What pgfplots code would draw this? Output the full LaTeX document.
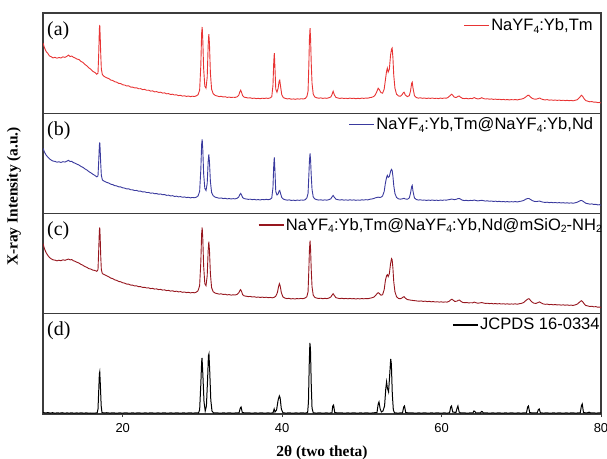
\documentclass[border=0pt]{standalone}
\usepackage{fontspec}
\setmainfont{Liberation Serif}
\newfontfamily\sffam{Liberation Sans}
\usepackage{pgfplots}
\usepackage{pgfplotstable}
\pgfplotsset{compat=1.18}
\definecolor{cA}{RGB}{232,52,52}
\definecolor{cB}{RGB}{58,58,158}
\definecolor{cC}{RGB}{150,22,30}
\definecolor{frame}{RGB}{60,60,60}
\newcommand\sub[1]{\raisebox{-0.15em}{\fontsize{10.5}{10.5}\selectfont #1}}

\pgfplotstableread{
x y
10.0 70
10.2 65
10.4 61.5
10.6 59.8
10.8 57.2
11.0 56.5
11.25 55.2
11.5 55.8
11.75 54.9
12.0 55.6
12.25 55.1
12.5 56.3
12.75 55.7
13.0 56.8
13.2 58.0
13.4 56.6
13.6 57.1
13.8 55.9
14.0 55.3
14.25 54.1
14.5 53.6
14.75 51.8
15.0 50.7
15.25 48.8
15.5 47.3
15.75 45.2
16.0 43.9
16.25 41.8
16.5 40.7
16.75 38.9
16.9 40
17.0 62
17.07 84
17.12 88
17.17 78
17.24 60
17.32 44
17.45 38.5
17.6 37.2
17.8 36.1
18.0 35.3
18.25 34.6
18.5 33.1
18.75 32.7
19.0 31.4
19.25 31.0
19.5 29.8
19.75 29.6
20.0 28.4
20.25 28.1
20.5 27.2
20.75 27.3
21.0 26.1
21.25 26.0
21.5 25.3
21.75 25.4
22.0 24.4
22.25 24.5
22.5 23.6
22.75 23.8
23.0 22.9
23.25 23.0
23.5 22.1
23.75 22.3
24.0 21.3
24.25 21.6
24.5 20.8
24.75 21.0
25.0 20.1
25.25 20.3
25.5 19.4
25.75 19.6
26.0 18.7
26.25 19.0
26.5 18.2
26.75 18.4
27.0 17.6
27.25 17.9
27.5 17.1
27.75 17.4
28.0 16.8
28.25 17.2
28.5 16.6
28.75 17.0
29.0 16.7
29.25 17.4
29.45 18.5
29.65 23
29.8 48
29.9 80
29.97 86
30.05 72
30.15 45
30.3 27
30.45 25
30.6 36
30.72 68
30.8 79
30.88 70
31.0 40
31.15 24
31.35 19.5
31.6 17.8
31.85 17.2
32.1 16.6
32.35 16.9
32.6 16.2
32.85 16.5
33.1 15.8
33.35 16.1
33.6 15.7
33.85 16.0
34.1 15.8
34.35 16.4
34.55 17.8
34.7 21.5
34.8 23
34.9 21.0
35.05 17.4
35.25 16.0
35.5 15.6
35.75 15.2
36.0 15.4
36.25 14.8
36.5 15.1
36.75 14.6
37.0 14.9
37.25 14.5
37.5 15.0
37.75 14.7
38.0 15.1
38.25 14.8
38.5 15.3
38.7 16.5
38.85 28
38.95 52
39.02 60
39.1 45
39.2 24
39.35 21
39.5 25
39.62 32
39.7 33
39.8 27
39.95 18.5
40.15 15.6
40.4 14.8
40.65 14.3
40.9 14.6
41.15 14.0
41.4 14.3
41.65 13.9
41.9 14.4
42.15 14.1
42.4 14.5
42.65 14.2
42.9 14.8
43.1 16.5
43.25 22
43.35 48
43.42 73
43.5 85
43.57 74
43.65 50
43.75 30
43.9 19
44.1 16.2
44.35 15.4
44.6 15.0
44.85 15.3
45.1 14.8
45.35 15.2
45.6 14.9
45.85 15.4
46.1 16.2
46.25 18.5
46.4 22
46.55 18.3
46.75 15.8
47.0 15.2
47.25 14.8
47.5 15.2
47.75 14.7
48.0 15.0
48.25 14.6
48.5 15.1
48.75 14.7
49.0 15.0
49.25 14.5
49.5 14.9
49.75 14.6
50.0 15.1
50.25 14.8
50.5 15.2
50.75 15.0
51.0 15.6
51.25 15.9
51.5 16.8
51.7 18.5
51.9 22
52.05 25
52.2 23.5
52.4 20.5
52.6 20
52.8 24
52.95 33
53.1 42
53.2 45
53.3 41
53.45 44
53.6 58
53.72 64
53.8 65
53.9 55
54.0 38
54.15 25
54.35 19
54.6 17.2
54.85 17.0
55.05 18.5
55.2 20.5
55.3 21
55.45 18.2
55.7 16.6
55.95 17.5
56.1 22
56.25 30
56.32 31
56.42 25
56.6 17.5
56.85 15.6
57.1 15.1
57.35 15.4
57.6 14.9
57.85 15.2
58.1 14.7
58.35 15.1
58.6 14.8
58.85 15.2
59.1 14.7
59.35 15.0
59.6 14.6
59.85 15.1
60.1 14.8
60.35 15.2
60.6 15.0
60.85 16.0
61.05 17.5
61.25 19
61.4 18.0
61.6 16.0
61.85 15.8
62.05 16.8
62.2 17.2
62.35 16.2
62.6 14.9
62.85 14.6
63.1 14.9
63.35 14.4
63.6 14.8
63.85 14.6
64.1 15.6
64.3 14.8
64.55 14.3
64.8 14.6
65.05 15.5
65.25 14.7
65.5 14.2
65.75 14.5
66.0 14.0
66.25 14.3
66.5 13.8
66.75 14.1
67.0 13.7
67.25 14.0
67.5 13.5
67.75 13.8
68.0 13.4
68.25 13.7
68.5 13.3
68.75 13.6
69.0 13.4
69.25 13.7
69.5 13.3
69.75 13.8
70.0 14.1
70.3 14.8
70.55 16.2
70.8 17.8
70.95 18
71.1 16.6
71.35 14.9
71.6 14.2
71.85 14.0
72.1 14.6
72.3 15.2
72.5 14.3
72.75 13.6
73.0 13.3
73.25 13.6
73.5 13.0
73.75 13.3
74.0 12.9
74.25 13.2
74.5 12.8
74.75 13.1
75.0 12.7
75.25 13.0
75.5 12.6
75.75 12.9
76.0 12.5
76.25 12.8
76.5 12.4
76.75 12.9
77.0 13.4
77.2 14.8
77.4 16.6
77.55 18
77.7 16.8
77.9 14.3
78.1 12.6
78.35 12.0
78.6 11.4
78.85 11.7
79.1 11.0
79.35 11.2
79.6 10.6
79.8 10.8
80.0 10.2
}\dataA

\pgfplotstableread{
x y
10.0 65
10.2 61
10.4 58.2
10.6 56.3
10.8 54.6
11.0 53.4
11.25 52.3
11.5 52.0
11.75 51.2
12.0 51.6
12.25 50.9
12.5 51.7
12.75 51.3
13.0 52.2
13.2 53.0
13.4 51.8
13.6 52.1
13.8 50.8
14.0 50.3
14.25 49.2
14.5 48.4
14.75 47.0
15.0 46.1
15.25 44.6
15.5 43.4
15.75 41.8
16.0 40.6
16.25 39.2
16.5 38.0
16.75 36.5
16.9 37.5
17.0 54
17.07 68
17.12 71
17.17 64
17.24 50
17.32 38
17.45 33.5
17.6 32.6
17.8 31.8
18.0 31.0
18.25 30.4
18.5 29.2
18.75 28.8
19.0 27.8
19.25 27.5
19.5 26.6
19.75 26.5
20.0 25.6
20.25 25.3
20.5 24.5
20.75 24.6
21.0 23.7
21.25 23.6
21.5 22.9
21.75 23.0
22.0 22.2
22.25 22.3
22.5 21.5
22.75 21.7
23.0 20.9
23.25 21.0
23.5 20.2
23.75 20.5
24.0 19.7
24.25 19.9
24.5 19.2
24.75 19.5
25.0 18.7
25.25 18.9
25.5 18.1
25.75 18.3
26.0 17.5
26.25 17.8
26.5 17.0
26.75 17.3
27.0 16.6
27.25 16.9
27.5 16.2
27.75 16.5
28.0 15.9
28.25 16.2
28.5 15.6
28.75 16.0
29.0 15.7
29.25 16.3
29.45 17.5
29.65 22
29.8 44
29.9 69
29.97 74
30.05 63
30.15 40
30.3 25
30.45 23
30.6 30
30.72 52
30.8 59
30.88 52
31.0 32
31.15 21
31.35 17.8
31.6 16.3
31.85 15.8
32.1 15.2
32.35 15.5
32.6 14.9
32.85 15.2
33.1 14.6
33.35 14.9
33.6 14.5
33.85 14.8
34.1 14.6
34.35 15.2
34.55 16.4
34.7 19.0
34.8 20
34.9 18.6
35.05 15.8
35.25 14.8
35.5 14.5
35.75 14.1
36.0 14.3
36.25 13.8
36.5 14.1
36.75 13.6
37.0 13.9
37.25 13.5
37.5 14.0
37.75 13.7
38.0 14.1
38.25 13.8
38.5 14.2
38.7 15.5
38.85 26
38.95 49
39.02 56
39.1 42
39.2 22
39.35 18.5
39.5 19.5
39.62 22.5
39.7 23
39.8 20
39.95 16
40.15 14.4
40.4 13.7
40.65 13.3
40.9 13.6
41.15 13.0
41.4 13.3
41.65 12.9
41.9 13.4
42.15 13.1
42.4 13.5
42.65 13.2
42.9 13.8
43.1 15.5
43.25 20
43.35 38
43.42 52
43.5 60
43.57 53
43.65 38
43.75 24
43.9 16.5
44.1 14.5
44.35 13.8
44.6 13.4
44.85 13.7
45.1 13.2
45.35 13.6
45.6 13.3
45.85 13.8
46.1 14.6
46.25 16.5
46.4 18
46.55 16.2
46.75 14.3
47.0 13.8
47.25 13.4
47.5 13.8
47.75 13.3
48.0 13.6
48.25 13.2
48.5 13.7
48.75 13.3
49.0 13.6
49.25 13.1
49.5 13.5
49.75 13.2
50.0 13.7
50.25 13.4
50.5 13.8
50.75 13.6
51.0 14.2
51.25 14.5
51.5 15.0
51.7 15.6
51.9 16.0
52.05 16.3
52.2 16.0
52.4 16.2
52.6 17.5
52.8 22
52.95 30
53.1 36
53.2 38
53.3 36
53.45 37
53.6 42
53.72 44
53.8 43
53.9 37
54.0 28
54.15 20
54.35 16
54.6 14.6
54.85 14.3
55.05 14.6
55.2 15.0
55.3 15.2
55.45 14.5
55.7 14.2
55.95 15.5
56.1 20
56.25 27
56.32 28
56.42 22
56.6 15.5
56.85 13.9
57.1 13.4
57.35 13.7
57.6 13.2
57.85 13.5
58.1 13.0
58.35 13.4
58.6 13.1
58.85 13.5
59.1 13.0
59.35 13.3
59.6 12.9
59.85 13.4
60.1 13.1
60.35 13.5
60.6 13.3
60.85 13.7
61.05 14.0
61.25 14.4
61.4 14.2
61.6 13.8
61.85 14.2
62.05 14.8
62.2 15.0
62.35 14.5
62.6 13.3
62.85 12.9
63.1 13.2
63.35 12.7
63.6 13.1
63.85 12.9
64.1 13.4
64.3 13.0
64.55 12.6
64.8 12.9
65.05 13.2
65.25 12.8
65.5 12.4
65.75 12.7
66.0 12.2
66.25 12.5
66.5 12.0
66.75 12.3
67.0 11.9
67.25 12.2
67.5 11.7
67.75 12.0
68.0 11.6
68.25 11.9
68.5 11.5
68.75 11.8
69.0 11.6
69.25 11.9
69.5 11.5
69.75 12.0
70.0 12.3
70.3 13.0
70.55 14.2
70.8 15.0
70.95 15
71.1 14.3
71.35 13.0
71.6 12.2
71.85 11.9
72.1 12.2
72.3 12.4
72.5 11.8
72.75 11.3
73.0 11.0
73.25 11.3
73.5 10.8
73.75 11.1
74.0 10.7
74.25 11.0
74.5 10.6
74.75 10.9
75.0 10.5
75.25 10.8
75.5 10.4
75.75 10.7
76.0 10.3
76.25 10.6
76.5 10.2
76.75 10.7
77.0 11.2
77.2 12.0
77.4 12.8
77.55 13
77.7 12.5
77.9 11.3
78.1 10.2
78.35 9.8
78.6 9.3
78.85 9.6
79.1 9.0
79.35 9.2
79.6 8.6
79.8 8.8
80.0 8.2
}\dataB

\pgfplotstableread{
x y
10.0 70
10.2 64.5
10.4 60.8
10.6 58.3
10.8 56.2
11.0 55.0
11.25 53.8
11.5 53.5
11.75 52.8
12.0 53.4
12.25 52.9
12.5 53.8
12.75 53.3
13.0 54.0
13.2 54.6
13.4 53.7
13.6 54.1
13.8 52.9
14.0 52.4
14.25 51.4
14.5 50.6
14.75 49.3
15.0 48.4
15.25 47.1
15.5 46.3
15.75 45.0
16.0 44.6
16.25 43.5
16.5 43.2
16.75 42.3
16.9 44
17.0 66
17.07 83
17.12 86
17.17 77
17.24 58
17.32 44
17.45 40
17.6 39.4
17.8 38.6
18.0 37.8
18.25 36.9
18.5 35.6
18.75 35.0
19.0 33.8
19.25 33.3
19.5 32.2
19.75 31.9
20.0 30.9
20.25 30.5
20.5 29.6
20.75 29.5
21.0 28.6
21.25 28.5
21.5 27.7
21.75 27.8
22.0 27.0
22.25 27.0
22.5 26.3
22.75 26.4
23.0 25.7
23.25 25.8
23.5 25.1
23.75 25.3
24.0 24.6
24.25 24.8
24.5 24.1
24.75 24.3
25.0 23.6
25.25 23.8
25.5 23.1
25.75 23.3
26.0 22.6
26.25 22.9
26.5 22.2
26.75 22.5
27.0 21.8
27.25 22.1
27.5 21.4
27.75 21.7
28.0 21.1
28.25 21.4
28.5 20.8
28.75 21.2
29.0 20.9
29.25 21.6
29.45 23
29.65 28
29.8 52
29.9 80
29.97 86
30.05 74
30.15 48
30.3 30
30.45 28
30.6 38
30.72 63
30.8 72
30.88 64
31.0 40
31.15 26
31.35 22
31.6 20.6
31.85 20.1
32.1 19.6
32.35 19.9
32.6 19.2
32.85 19.5
33.1 18.8
33.35 19.1
33.6 18.6
33.85 18.9
34.1 18.7
34.35 19.3
34.55 20.8
34.7 23.2
34.8 24
34.9 22.4
35.05 19.0
35.25 17.8
35.5 17.5
35.75 17.1
36.0 17.3
36.25 16.7
36.5 17.0
36.75 16.4
37.0 16.7
37.25 16.2
37.5 16.6
37.75 16.2
38.0 16.5
38.25 16.0
38.5 16.3
38.75 15.9
39.0 16.4
39.2 17.5
39.4 21
39.55 27
39.65 30
39.75 28
39.9 21
40.1 16.8
40.35 15.6
40.6 15.1
40.85 15.4
41.1 14.8
41.35 15.1
41.6 14.7
41.85 15.2
42.1 14.9
42.35 15.3
42.6 15.0
42.85 15.6
43.1 17.0
43.25 22
43.35 44
43.42 63
43.5 73
43.57 64
43.65 44
43.75 27
43.9 18.5
44.1 16.3
44.35 15.6
44.6 15.2
44.85 15.5
45.1 15.0
45.35 15.4
45.6 15.1
45.85 15.6
46.1 16.6
46.25 18.5
46.4 20
46.55 18.2
46.75 16.0
47.0 15.5
47.25 15.1
47.5 15.5
47.75 15.0
48.0 15.3
48.25 14.9
48.5 15.3
48.75 14.9
49.0 15.2
49.25 14.7
49.5 15.1
49.75 14.8
50.0 15.2
50.25 14.9
50.5 15.2
50.75 15.0
51.0 15.5
51.25 15.9
51.5 16.6
51.7 18.0
51.9 20
52.05 21
52.2 20.2
52.4 18.5
52.6 19
52.8 24
52.95 33
53.1 38
53.2 39
53.3 37
53.45 40
53.6 50
53.72 55
53.8 54
53.9 45
54.0 32
54.15 22
54.35 17
54.6 15.2
54.85 15.0
55.05 15.8
55.2 16.8
55.3 17
55.45 15.6
55.7 14.2
55.95 13.8
56.2 13.5
56.45 13.2
56.7 13.0
56.95 12.7
57.2 12.5
57.45 12.8
57.7 12.3
57.95 12.6
58.2 12.1
58.45 12.4
58.7 11.9
58.95 12.2
59.2 11.7
59.45 12.0
59.7 11.6
59.95 11.9
60.2 11.5
60.45 11.8
60.7 11.6
60.95 12.5
61.15 13.8
61.3 14.5
61.45 13.6
61.65 12.3
61.9 12.5
62.1 13.4
62.25 13.6
62.4 12.6
62.65 11.3
62.9 11.0
63.15 11.2
63.4 10.8
63.65 11.0
63.9 10.9
64.1 11.6
64.3 11.0
64.55 10.5
64.8 10.8
65.05 11.2
65.25 10.7
65.5 10.3
65.75 10.5
66.0 10.1
66.25 10.3
66.5 9.9
66.75 10.2
67.0 9.8
67.25 10.1
67.5 9.7
67.75 10.0
68.0 9.6
68.25 9.9
68.5 9.5
68.75 9.8
69.0 9.6
69.25 9.9
69.5 9.5
69.75 10.0
70.0 10.3
70.3 11.2
70.55 13.0
70.8 14.6
70.95 15
71.1 13.8
71.35 11.6
71.6 10.5
71.85 10.3
72.1 11.2
72.3 11.8
72.5 10.8
72.75 9.8
73.0 9.4
73.25 9.6
73.5 9.1
73.75 9.3
74.0 8.9
74.25 9.2
74.5 8.8
74.75 9.0
75.0 8.6
75.25 8.9
75.5 8.5
75.75 8.8
76.0 8.4
76.25 8.6
76.5 8.3
76.75 8.8
77.0 9.5
77.2 10.8
77.4 12.3
77.55 13
77.7 12.0
77.9 9.8
78.1 8.2
78.35 7.8
78.6 7.2
78.85 7.5
79.1 6.9
79.35 7.1
79.6 6.5
79.8 6.7
80.0 6.2
}\dataC

\pgfplotstableread{
x y
10.0 1.5
10.3 1.0
10.6 1.4
10.9 0.9
11.2 1.3
11.5 0.8
11.8 1.2
12.1 0.9
12.4 1.3
12.7 0.8
13.0 1.1
13.3 0.9
13.6 1.2
13.9 0.8
14.2 1.1
14.5 0.9
14.8 1.2
15.1 0.8
15.4 1.1
15.7 0.9
16.0 1.0
16.3 0.8
16.6 1.0
16.8 1.2
16.9 5
17.0 25
17.07 40
17.12 42
17.2 28
17.3 8
17.4 1.5
17.7 1.0
18.0 1.3
18.4 0.9
18.8 1.2
19.2 0.8
19.6 1.1
20.0 0.9
20.4 1.2
20.8 0.8
21.2 1.1
21.6 0.9
22.0 1.2
22.4 0.8
22.8 1.1
23.2 0.9
23.6 1.2
24.0 0.8
24.4 1.1
24.8 0.9
25.2 1.2
25.6 0.8
26.0 1.1
26.4 0.9
26.8 1.2
27.2 0.8
27.6 1.1
28.0 0.9
28.4 1.2
28.8 0.9
29.2 1.1
29.5 1.0
29.65 4
29.8 30
29.9 52
29.95 56
30.05 40
30.2 12
30.35 3
30.5 8
30.65 35
30.75 58
30.82 60
30.92 42
31.05 14
31.2 3
31.4 1.0
31.8 1.2
32.2 0.8
32.6 1.1
33.0 0.9
33.4 1.2
33.8 0.8
34.2 1.1
34.6 1.2
34.75 6
34.85 7
35.0 1.5
35.4 1.0
35.8 1.2
36.2 0.8
36.6 1.1
37.0 0.9
37.4 1.2
37.8 0.8
38.2 1.1
38.6 0.9
38.85 1.2
39.0 5
39.1 2
39.3 4
39.5 14
39.65 18
39.75 16
39.9 5
40.1 1.2
40.5 0.9
40.9 1.2
41.3 0.8
41.7 1.1
42.1 0.9
42.5 1.2
42.9 0.9
43.2 1.5
43.3 12
43.4 50
43.48 71
43.55 65
43.65 30
43.75 6
43.9 1.2
44.3 0.9
44.7 1.2
45.1 0.8
45.5 1.1
45.9 0.9
46.25 1.2
46.35 8
46.45 9
46.6 1.5
47.0 1.0
47.4 1.2
47.8 0.8
48.2 1.1
48.6 0.9
49.0 1.2
49.4 0.8
49.8 1.1
50.2 0.9
50.6 1.2
51.0 0.8
51.4 1.1
51.9 1.5
52.05 10
52.15 12
52.3 5
52.45 2
52.65 3
52.85 8
53.0 25
53.1 32
53.2 26
53.35 22
53.5 40
53.62 55
53.7 50
53.82 20
53.95 4
54.1 1.2
54.5 0.9
54.9 1.1
55.1 1.2
55.25 7
55.35 8
55.5 1.5
55.9 1.0
56.3 1.2
56.7 0.8
57.1 1.1
57.5 0.9
57.9 1.2
58.3 0.8
58.7 1.1
59.1 0.9
59.5 1.2
59.9 0.8
60.3 1.1
60.7 0.9
61.0 1.2
61.15 7
61.25 8
61.4 2
61.8 1.5
61.95 6
62.05 8
62.2 2
62.4 1.0
62.8 1.2
63.2 0.8
63.6 1.1
63.95 1.2
64.05 3
64.15 2.8
64.3 1.0
64.6 1.2
64.9 1.0
65.0 2.5
65.1 2.4
65.25 1.0
65.6 1.2
66.0 0.8
66.4 1.1
66.8 0.9
67.2 1.2
67.6 0.8
68.0 1.1
68.4 0.9
68.8 1.2
69.2 0.8
69.6 1.1
70.0 0.9
70.4 1.2
70.65 1.2
70.8 7
70.9 8
71.05 1.5
71.4 1.0
71.8 1.2
72.0 1.2
72.15 4.5
72.25 5
72.4 1.2
72.8 0.9
73.2 1.2
73.6 0.8
74.0 1.1
74.4 0.9
74.8 1.2
75.2 0.8
75.6 1.1
76.0 0.9
76.4 1.2
76.8 0.9
77.2 1.1
77.4 1.2
77.55 8.5
77.65 10
77.8 1.5
78.2 1.0
78.5 1.8
78.7 1.0
79.0 1.2
79.4 0.9
79.7 1.1
80.0 1.2
}\dataD

\pgfplotsset{
  panel/.style={
    scale only axis, width=558bp, height=100.25bp,
    xmin=10, xmax=80, ymin=0, ymax=100,
    ytick=\empty, xtick=\empty,
    axis line style={line width=1.2bp, frame},
    anchor=south west,
    legend style={draw=none, fill=none, anchor=north west,
      inner xsep=0pt, inner ysep=0pt,
      font=\fontsize{16.6}{18}\selectfont\sffam,
      nodes={inner sep=1.5bp}},
    legend image code/.code={\draw[##1, line width=1.4bp] (0bp,0bp) -- (25bp,0bp);},
  },
}
\tikzset{plbl/.style={anchor=north west, inner sep=0pt, font=\fontsize{20}{21}\selectfont, xshift=4bp, yshift=-8bp}}

\begin{document}
\begin{tikzpicture}
\useasboundingbox (-43bp,-45bp) rectangle (564bp,414bp);

\begin{axis}[panel, at={(0bp,300.75bp)}, legend style={at={(0.753,1)}, yshift=-4bp}]
\addplot[color=cA, line width=0.9bp] table {\dataA};
\addlegendentry{NaYF\sub{4}:Yb,Tm}
\node[plbl] at (rel axis cs:0,1) {(a)};
\end{axis}

\begin{axis}[panel, at={(0bp,200.5bp)}, legend style={at={(0.547,1)}, yshift=-3bp}]
\addplot[color=cB, line width=0.9bp] table {\dataB};
\addlegendentry{NaYF\sub{4}:Yb,Tm@NaYF\sub{4}:Yb,Nd}
\node[plbl] at (rel axis cs:0,1) {(b)};
\end{axis}

\begin{axis}[panel, at={(0bp,100.25bp)}, legend style={at={(0.385,1)}, yshift=-3bp}]
\addplot[color=cC, line width=0.9bp] table {\dataC};
\addlegendentry{NaYF\sub{4}:Yb,Tm@NaYF\sub{4}:Yb,Nd@mSiO\sub{2}-NH\sub{2}}
\node[plbl] at (rel axis cs:0,1) {(c)};
\end{axis}

\begin{axis}[panel, at={(0bp,0bp)}, legend style={at={(0.733,1)}, yshift=-3bp},
  xtick={20,40,60,80}, xtick pos=bottom, tick align=outside,
  major tick length=3bp, tick style={line width=1bp, frame},
  /pgf/number format/assume math mode=true,
  xticklabel style={font=\fontsize{13}{14}\selectfont\sffam, yshift=-3bp}]
\addplot[color=black, line width=1bp] table {\dataD};
\addlegendentry{JCPDS 16-0334}
\node[plbl] at (rel axis cs:0,1) {(d)};
\end{axis}

\node[rotate=90, font=\fontsize{15.5}{17}\selectfont\bfseries] at (-29bp,217.5bp) {X-ray Intensity (a.u.)};
\node[anchor=base, font=\fontsize{15.5}{17}\selectfont\bfseries] at (279bp,-42bp) {2θ (two theta)};
\end{tikzpicture}
\end{document}
